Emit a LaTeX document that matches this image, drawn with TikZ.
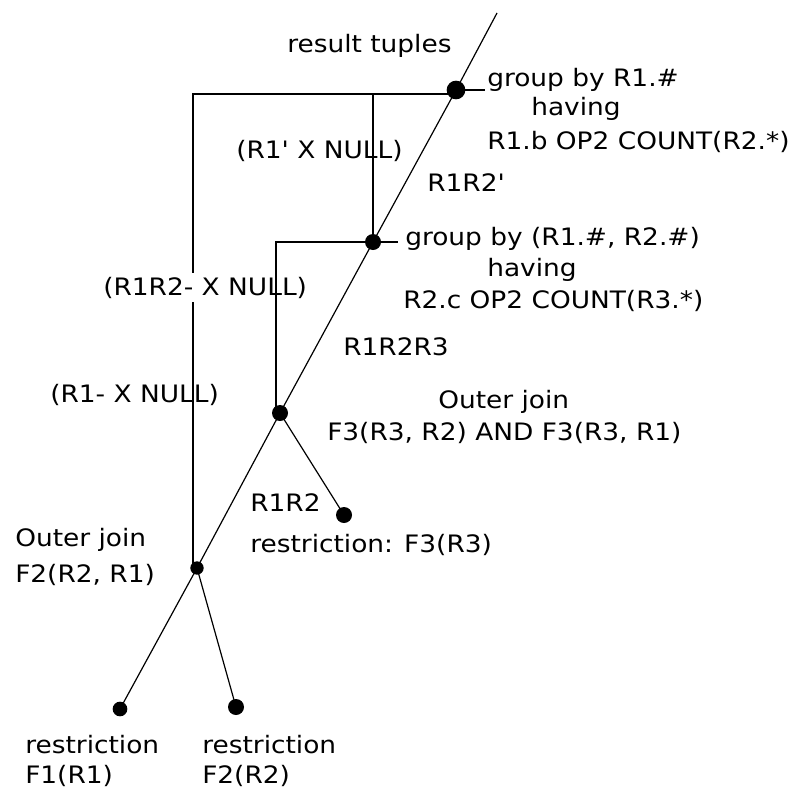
\documentclass[tikz,border=0pt]{standalone}
\usepackage{fontspec}
\setmainfont{DejaVu Sans}[FakeStretch=1.1, Ligatures=TeXOff]
\usetikzlibrary{calc}
\begin{document}
\begin{tikzpicture}[x=0.75pt, y=-0.75pt,
  dot/.style={circle, fill=black, inner sep=0pt, minimum size=#1},
  dot/.default=12pt,
  wire/.style={line width=1.4pt, black},
  diag/.style={line width=0.9pt, black},
  lbl/.style={anchor=base west, inner sep=0pt, font=\fontsize{18pt}{22pt}\selectfont},
  lblw/.style={lbl, fill=white, inner ysep=3pt}]
\useasboundingbox (0,0) rectangle (805,796);

% operator nodes of the plan
\coordinate (out) at (497,13);
\node[dot=14pt] (gtop) at (456,90) {};
\node[dot=12pt] (gmid) at (373,242) {};
\node[dot=12pt] (oj2) at (280,413) {};
\node[dot=12pt] (rf3) at (344,515) {};
\node[dot=10pt] (oj1) at (197,568) {};
\node[dot=11pt] (rf1) at (120,709) {};
\node[dot=12pt] (rf2) at (236,707) {};

% junctions of the NULL-padding branches
\coordinate (tbar) at (373,94);
\coordinate (lbar) at (193,94);
\coordinate (mbar) at (276,242);

% outer NULL branch from the top group-by down to the first outer join
\draw[wire] (tbar) -- (lbar) -- (lbar |- oj1.center);
\node[lblw] (n2) at (103,295) {(R1R2- X NULL)};

% inner NULL branches
\draw[wire] (tbar) -- (gmid.center);
\draw[line width=2.2pt] (gtop.center |- tbar) -- (tbar);
\draw[wire] (gmid.center) -- (mbar) -- (mbar |- oj2.center);

% label leaders
\draw[wire] (gtop.center) -- ++(29,0);
\draw[wire] (gmid.center) -- ++(25,0);

% main data flow
\draw[diag] (out) -- (gtop.center) -- (gmid.center) -- (oj2.center) -- (oj1.center) -- (rf1.center);
\draw[diag] (oj2.center) -- (rf3.center);
\draw[diag] (oj1.center) -- (rf2.center);

% texts
\node[lbl] (t0) at (287,52) {result tuples};
\node[lbl] (t1) at (487,86) {group by R1.\#};
\node[lbl] (t2) at (531,115) {having};
\node[lbl] (t3) at (487,149) {R1.b OP2 COUNT(R2.*)};
\node[lbl] (n1) at (236,158) {(R1' X NULL)};
\node[lbl] (e1) at (427,191) {R1R2'};
\node[lbl] (t4) at (405,245) {group by (R1.\#, R2.\#)};
\node[lbl] (t5) at (487,276) {having};
\node[lbl] (t6) at (403,308) {R2.c OP2 COUNT(R3.*)};
\node[lbl] (e2) at (343,355) {R1R2R3};
\node[lbl] (n3) at (50,402) {(R1- X NULL)};
\node[lbl] (t7) at (438,408) {Outer join};
\node[lbl] (t8) at (327,440) {F3(R3, R2) AND F3(R3, R1)};
\node[lbl] (e3) at (250,511) {R1R2};
\node[lbl] (t9) at (250,552) {restriction: F3(R3)};
\node[lbl] (t10) at (15,546) {Outer join};
\node[lbl] (t11) at (15,582) {F2(R2, R1)};
\node[lbl] (t12) at (25,753) {restriction};
\node[lbl] (t13) at (25,783) {F1(R1)};
\node[lbl] (t14) at (202,753) {restriction};
\node[lbl] (t15) at (202,783) {F2(R2)};
\end{tikzpicture}
\end{document}
